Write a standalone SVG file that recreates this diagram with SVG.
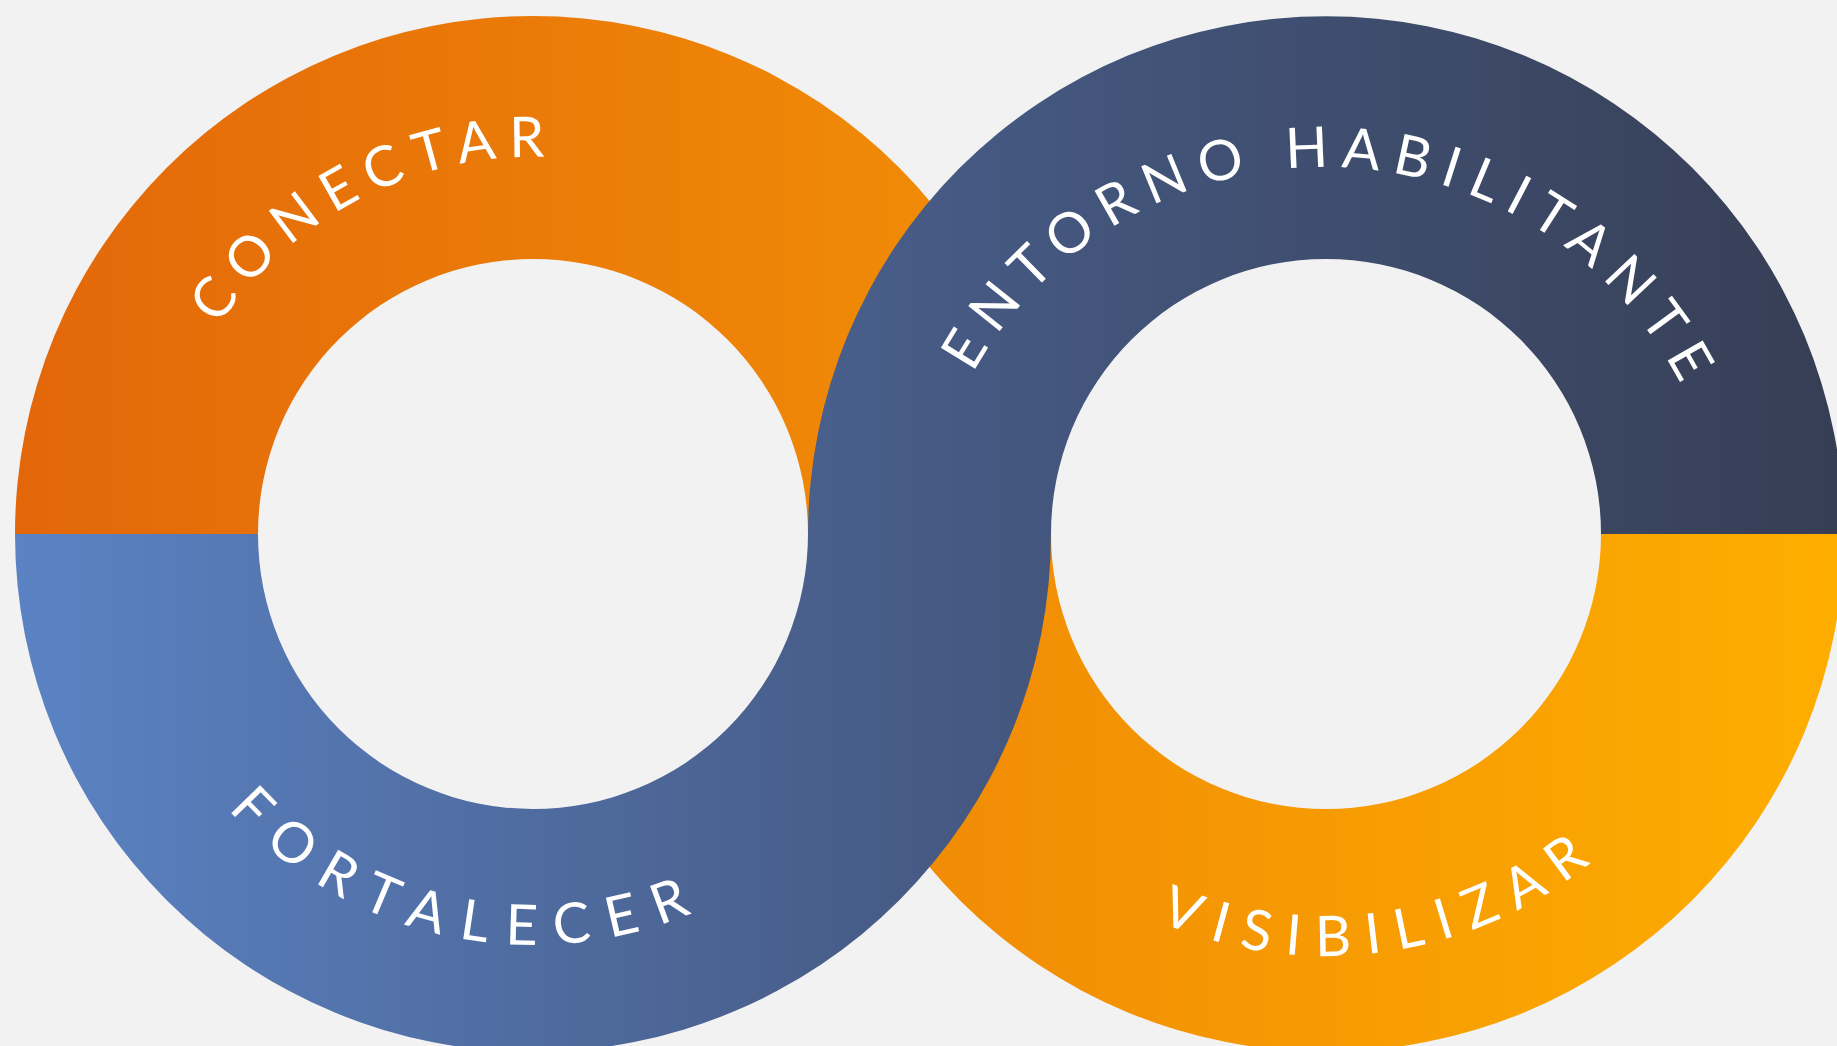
<svg xmlns="http://www.w3.org/2000/svg" width="1837" height="1046" viewBox="0 0 1837 1046">
  <style>
    .lbl { font-family: Lato, "Noto Sans", "DejaVu Sans", sans-serif; font-size: 56px; fill: #ffffff; text-anchor: middle; }
  </style>
  <defs>
    <linearGradient id="gOrangeTop" gradientUnits="userSpaceOnUse" x1="15" y1="0" x2="1051" y2="0">
      <stop offset="0" stop-color="#e3670a"/>
      <stop offset="1" stop-color="#f28f06"/>
    </linearGradient>
    <linearGradient id="gOrangeBottom" gradientUnits="userSpaceOnUse" x1="808" y1="0" x2="1844" y2="0">
      <stop offset="0" stop-color="#ef8706"/>
      <stop offset="1" stop-color="#feae00"/>
    </linearGradient>
    <linearGradient id="gBlue" gradientUnits="userSpaceOnUse" x1="15" y1="0" x2="1844" y2="0">
      <stop offset="0" stop-color="#5b83c4"/>
      <stop offset="0.5" stop-color="#465a84"/>
      <stop offset="1" stop-color="#363e54"/>
    </linearGradient>
    <path id="pConectar" d="M 156 534 A 377 377 0 0 1 910 534"/>
    <path id="pFortalecer" d="M 122 534 A 411 411 0 0 0 944 534"/>
    <path id="pEntorno" d="M 922 569 A 402 402 0 0 1 1726 569"/>
    <path id="pVisibilizar" d="M 904 534 A 422 422 0 0 0 1748 534"/>
  </defs>
  <rect x="0" y="0" width="1837" height="1046" fill="#f2f2f2"/>

  <g id="conectar">
    <path d="M 15 534 A 518 518 0 0 1 1051 534 L 808 534 A 275 275 0 0 0 258 534 Z" fill="url(#gOrangeTop)"/>
    <text class="lbl"><textPath href="#pConectar" startOffset="412" textLength="383" lengthAdjust="spacing">CONECTAR</textPath></text>
  </g>

  <g id="visibilizar">
    <path d="M 808 534 A 518 518 0 0 0 1844 534 L 1601 534 A 275 275 0 0 1 1051 534 Z" fill="url(#gOrangeBottom)"/>
    <text class="lbl"><textPath href="#pVisibilizar" startOffset="719.5" textLength="459" lengthAdjust="spacing">VISIBILIZAR</textPath></text>
  </g>

  <g id="fortalecer">
    <path d="M 15 534 A 518 518 0 0 0 1051 534 L 808 534 A 275 275 0 0 1 258 534 Z" fill="url(#gBlue)"/>
    <text class="lbl"><textPath href="#pFortalecer" startOffset="555" textLength="507" lengthAdjust="spacing">FORTALECER</textPath></text>
  </g>

  <g id="entorno">
    <path d="M 808 534 A 518 518 0 0 1 1844 534 L 1601 534 A 275 275 0 0 0 1051 534 Z" fill="url(#gBlue)"/>
    <text class="lbl"><textPath href="#pEntorno" startOffset="637.5" textLength="866" lengthAdjust="spacing">ENTORNO HABILITANTE</textPath></text>
  </g>

  <g id="connectors"></g>
</svg>
